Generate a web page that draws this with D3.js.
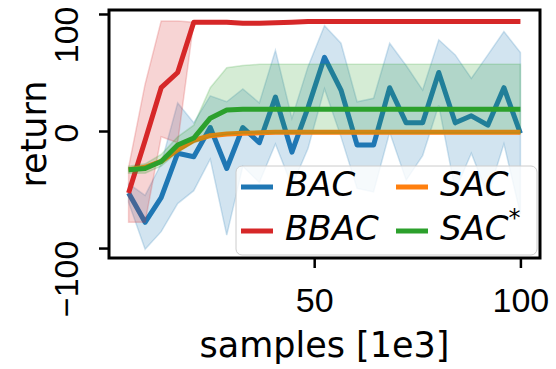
<!DOCTYPE html>
<html lang="en">
<style>
body { margin: 0; background: white; }
svg { font-family: "DejaVu Sans", sans-serif; }
.band { stroke-width: 1.5; }
.mean { fill: none; stroke-width: 5; stroke-linejoin: round; }
.axis path, .axis line { stroke: black; }
.axis text { font-size: 34px; fill: black; }
.leg { font-size: 34px; font-style: italic; }
</style>
<svg width="556" height="369"></svg>
<script src="https://d3js.org/d3.v7.min.js"></script>
<script>
// samples [1e3]
var steps = [5, 9, 12.9, 16.9, 20.8, 24.8, 28.8, 32.7, 36.7, 40.6, 44.6, 48.5, 52.5,
             56.5, 60.4, 64.4, 68.3, 72.3, 76.3, 80.2, 84.2, 88.1, 92.1, 96, 100];

var bacMean  = [-53, -78, -57, -19, -22, 3, -32, 3, -10, 29, -18, 20, 63,
                35, -12, -12, 37, 7, 7, 50, 7, 13, 5, 37, -2];
var bacUpper = [-45, -55, -28, 24, 7, 30, 25, 36, 24, 69, 11, 55, 90,
                75, 25, 28, 75, 56, 35, 78, 65, 45, 65, 85, 67];
var bacLower = [-61, -101, -86, -62, -51, -24, -89, -30, -44, -11, -47, -15, 36,
                -5, -49, -52, -1, -42, -21, 22, -51, -19, -55, -11, -71];

var bbacMean  = [-53, -8, 37, 50, 93, 93, 93, 92, 92, 92.5, 93, 93.5, 93.5,
                 93.5, 93.5, 93.5, 93.5, 93.5, 93.5, 93.5, 93.5, 93.5, 93.5, 93.5, 93.5];
var bbacUpper = [-31, 40, 94, 94, 93, 93, 93, 92, 92, 92.5, 93, 93.5, 93.5,
                 93.5, 93.5, 93.5, 93.5, 93.5, 93.5, 93.5, 93.5, 93.5, 93.5, 93.5, 93.5];
var bbacLower = [-78, -78, -5, -10, 93, 93, 93, 92, 92, 92.5, 93, 93.5, 93.5,
                 93.5, 93.5, 93.5, 93.5, 93.5, 93.5, 93.5, 93.5, 93.5, 93.5, 93.5, 93.5];

var sacMean = [-33, -31, -26, -16, -8, -4, -2.5, -2, -1.5, -1, -1, -1, -1,
               -1, -1, -1, -1, -1, -1, -1, -1, -1, -1, -1, -1];

var sacStarMean  = [-33, -32, -26, -12, -6, 11, 18, 18.5, 18.5, 18.5, 18.5, 18.5, 18.5,
                    18.5, 18.5, 18.5, 18.5, 18.5, 18.5, 18.5, 18.5, 18.5, 18.5, 18.5, 18.5];
var sacStarUpper = [-30, -28, -20, -5, 5, 37, 54, 56, 57, 57, 57, 57, 57,
                    57, 57, 57, 57, 57, 57, 57, 57, 57, 57, 57, 57];
var sacStarLower = [-36, -36, -30, -18, -10, -5, -3, -2, -2, -2, -2, -2, -2,
                    -2, -2, -2, -2, -2, -2, -2, -2, -2, -2, -2, -2];

var xTicks = [50, 100];
var yTicks = [-100, 0, 100];

var series = [
    {name: "BAC",  color: "#1f77b4", mean: bacMean, upper: bacUpper, lower: bacLower},
    {name: "BBAC", color: "#d62728", mean: bbacMean, upper: bbacUpper, lower: bbacLower},
    {name: "SAC",  color: "#ff7f0e", mean: sacMean},
    {name: "SAC",  color: "#2ca02c", mean: sacStarMean, upper: sacStarUpper, lower: sacStarLower, star: true}
];

var svg = d3.select("svg");
var x0 = 109, x1 = 540, y0 = 10, y1 = 258;

var xScale = d3.scaleLinear().domain([0.25, 104.75]).range([x0, x1]);
var yScale = d3.scaleLinear().domain([-108.5, 103.4]).range([y1, y0]);

var area = d3.area()
    .x(function(d) { return xScale(d.x); })
    .y0(function(d) { return yScale(d.lo); })
    .y1(function(d) { return yScale(d.hi); });

var line = d3.line()
    .x(function(d) { return xScale(d.x); })
    .y(function(d) { return yScale(d.y); });

var plot = svg.append("g");

series.forEach(function(s) {
    if (s.upper) {
        var pts = steps.map(function(x, i) { return {x: x, lo: s.lower[i], hi: s.upper[i]}; });
        plot.append("path")
            .attr("class", "band")
            .attr("d", area(pts))
            .attr("fill", s.color)
            .attr("fill-opacity", 0.2)
            .attr("stroke", s.color)
            .attr("stroke-opacity", 0.2);
    }
    var m = steps.map(function(x, i) { return {x: x, y: s.mean[i]}; });
    plot.append("path")
        .attr("class", "mean")
        .attr("d", line(m))
        .attr("stroke", s.color);
});

// legend
var leg = svg.append("g");
leg.append("rect")
    .attr("x", 236).attr("y", 166)
    .attr("width", 301).attr("height", 89)
    .attr("rx", 6)
    .attr("fill", "white").attr("fill-opacity", 0.8)
    .attr("stroke", "#cccccc").attr("stroke-width", 1);

var legPos = [{x: 241, y: 196}, {x: 241, y: 240}, {x: 396, y: 196}, {x: 396, y: 240}];
series.forEach(function(s, i) {
    var p = legPos[i];
    leg.append("line")
        .attr("x1", p.x).attr("x2", p.x + 32)
        .attr("y1", p.y - 9).attr("y2", p.y - 9)
        .attr("stroke", s.color).attr("stroke-width", 5);
    var t = leg.append("text")
        .attr("class", "leg")
        .attr("x", p.x + 44).attr("y", p.y)
        .text(s.name);
    if (s.star) {
        t.append("tspan")
            .attr("dy", -14)
            .attr("font-size", "24px")
            .attr("font-style", "normal")
            .text("*");
    }
});

// axes
var xAxis = svg.append("g")
    .attr("class", "axis")
    .attr("transform", "translate(0," + y1 + ")")
    .call(d3.axisBottom(xScale).tickValues(xTicks).tickSize(10).tickSizeOuter(0));
xAxis.select(".domain").remove();
xAxis.selectAll("line").attr("stroke-width", 2.5);
xAxis.selectAll("text").attr("y", 54).attr("dy", null);

var yAxis = svg.append("g")
    .attr("class", "axis")
    .attr("transform", "translate(" + x0 + ",0)")
    .call(d3.axisLeft(yScale).tickValues(yTicks).tickSize(10).tickSizeOuter(0)
        .tickFormat(function(d) { return d < 0 ? "\u2212" + Math.abs(d) : d; }));
yAxis.select(".domain").remove();
yAxis.selectAll("line").attr("stroke-width", 2.5);
yAxis.selectAll("text")
    .attr("x", null).attr("dy", null)
    .attr("text-anchor", "end")
    .attr("transform", "translate(-31,-8) rotate(-90)");

// frame
svg.append("rect")
    .attr("x", x0).attr("y", y0)
    .attr("width", x1 - x0).attr("height", y1 - y0)
    .attr("fill", "none").attr("stroke", "black").attr("stroke-width", 3);

svg.append("text")
    .attr("x", (x0 + x1) / 2).attr("y", 357)
    .attr("text-anchor", "middle")
    .attr("font-size", "35px")
    .text("samples [1e3]");

svg.append("text")
    .attr("transform", "translate(46," + (y0 + y1) / 2 + ") rotate(-90)")
    .attr("text-anchor", "middle")
    .attr("font-size", "35px")
    .text("return");
</script>
</html>
